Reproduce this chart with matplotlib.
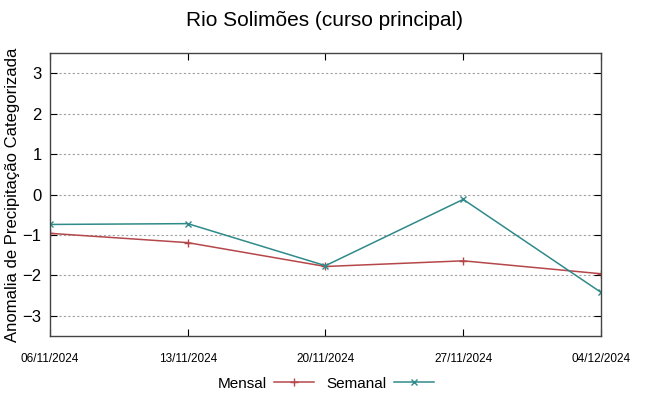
import matplotlib.pyplot as plt
from datetime import datetime
import matplotlib.dates as mdates

plt.rcParams['font.family'] = ['Liberation Sans', 'DejaVu Sans']

datas = ['06/11/2024', '13/11/2024', '20/11/2024', '27/11/2024', '04/12/2024']
mensal = [-0.96, -1.19, -1.78, -1.64, -1.96]
semanal = [-0.74, -0.72, -1.76, -0.12, -2.42]

x = [datetime.strptime(d, '%d/%m/%Y') for d in datas]

fig = plt.figure(figsize=(6.49, 3.96), dpi=100)
ax = fig.add_axes([0.077, 0.1515, 0.849, 0.7145])

ax.plot(x, mensal, color='#b5474a', lw=1.1, marker='+', ms=6, mew=1.0, label='Mensal')
ax.plot(x, semanal, color='#2f8a8a', lw=1.1, marker='x', ms=5, mew=1.0, label='Semanal')

ax.set_xlim(x[0], x[-1])
ax.set_ylim(-3.5, 3.5)
ax.set_yticks([-3, -2, -1, 0, 1, 2, 3])
ax.set_xticks(x)
ax.set_xticklabels(datas)
ax.tick_params(axis='x', labelsize=8.5, direction='in', top=True, length=5, pad=12)
ax.tick_params(axis='y', labelsize=12, direction='in', right=True, length=5, pad=6)
ax.yaxis.grid(True, linestyle=(0, (2, 2)), color='#a0a0a0', lw=0.8)
for s in ax.spines.values():
    s.set_color('#444444')
    s.set_linewidth(1.0)

ax.set_ylabel('Anomalia de Precipitação Categorizada', fontsize=12, labelpad=2)
fig.suptitle('Rio Solimões (curso principal)', fontsize=15, y=0.972)

ax.legend(loc='upper center', bbox_to_anchor=(0.5, -0.095), ncol=2, frameon=False,
          markerfirst=False, fontsize=11, handlelength=2.6, columnspacing=0.8,
          handletextpad=0.5)

fig.savefig('out.png', dpi=100)
